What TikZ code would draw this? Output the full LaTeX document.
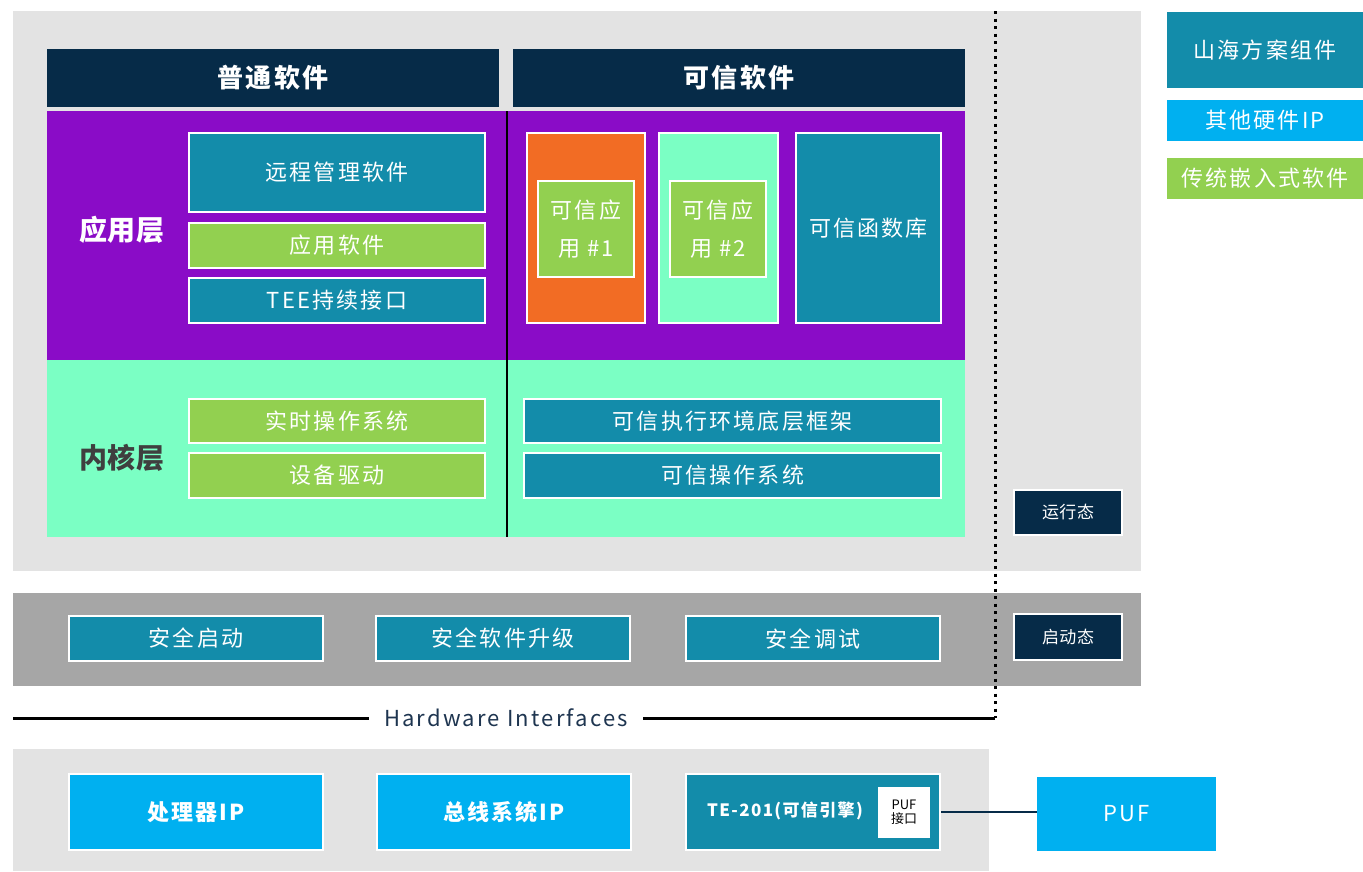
\documentclass[tikz,border=0pt]{standalone}
\usepackage{fontspec}
\setmainfont{Noto Sans CJK SC}
\definecolor{teal1}{HTML}{138CAA}
\definecolor{navy}{HTML}{062B48}
\definecolor{purp}{HTML}{8A0CC7}
\definecolor{mint}{HTML}{7BFFC4}
\definecolor{lgreen}{HTML}{92D050}
\definecolor{orng}{HTML}{F26C24}
\definecolor{cyan1}{HTML}{00B0F0}
\definecolor{lgray}{HTML}{E3E3E3}
\definecolor{mgray}{HTML}{A6A6A6}
\definecolor{hwtext}{HTML}{1E3550}
\definecolor{dgray}{HTML}{3F3F3F}
\newcommand\fA{\fontsize{22}{38}\selectfont\addfontfeatures{LetterSpace=10}}
\newcommand\fH{\bfseries\fontsize{26}{30}\selectfont\addfontfeatures{LetterSpace=10}}
\newcommand\fL{\bfseries\fontsize{28}{32}\selectfont\addfontfeatures{LetterSpace=3}}
\newcommand\fS{\fontsize{17}{20}\selectfont\addfontfeatures{LetterSpace=3}}
\newcommand\fP{\bfseries\fontsize{22}{26}\selectfont\addfontfeatures{LetterSpace=10}}
\newcommand\fT{\bfseries\fontsize{17}{20}\selectfont\addfontfeatures{LetterSpace=8}}
\newcommand\fI{\fontsize{13}{14}\selectfont}
\newcommand\fW{\fontsize{22}{26}\selectfont\addfontfeatures{LetterSpace=10}}
\newcommand\bx[7]{\node[#6,minimum width={#4pt-#2pt},minimum height={#5pt-#3pt}] (#1) at ({(#2+#4)/2},{(#3+#5)/2}) {#7};}
\tikzset{
  panel/.style={draw=none,inner sep=0pt,outer sep=0pt},
  hdr/.style={draw=none,fill=navy,text=white,font=\fH,inner sep=0pt},
  wb/.style={draw=white,line width=2.5pt,inner sep=0pt,text=white,font=\fA},
  leg/.style={draw=none,inner sep=0pt,text=white,font=\fA},
  lbl/.style={inner sep=0pt,font=\fL},
}
\begin{document}
\begin{tikzpicture}[x=1pt,y=-1pt]
\useasboundingbox (0,0) rectangle (1363,871);
\fill[white] (0,0) rectangle (1363,871);
% panels
\bx{top}{13}{11}{1141}{571}{panel,fill=lgray}{}
\bx{mid}{13}{593}{1141}{686}{panel,fill=mgray}{}
\bx{bot}{13}{749}{989}{871}{panel,fill=lgray}{}
\bx{h1}{47}{49}{499}{107}{hdr}{普通软件}
\bx{h2}{513}{49}{965}{107}{hdr}{可信软件}
\bx{app}{47}{111}{965}{360}{panel,fill=purp}{}
\bx{ker}{47}{360}{965}{537}{panel,fill=mint}{}
\node[lbl,text=white] (l1) at (122,230) {应用层};
\node[lbl,text=dgray] (l2) at (122,458) {内核层};
\coordinate (vt) at (507,111);
\coordinate (vb) at (507,537);
\draw[line width=2.5pt] (vt) -- (vb);
% application layer
\bx{b1}{189}{133}{485}{212}{wb,fill=teal1}{远程管理软件}
\bx{b2}{189}{223}{485}{268}{wb,fill=lgreen}{应用软件}
\bx{b3}{189}{278}{485}{323}{wb,fill=teal1}{TEE持续接口}
\bx{t1}{527}{133}{645}{323}{wb,fill=orng}{}
\bx{t1i}{538}{181}{634}{277}{wb,line width=2pt,fill=lgreen,align=center}{可信应\\用 \#1}
\bx{t2}{659}{133}{778}{323}{wb,fill=mint}{}
\bx{t2i}{670}{181}{766}{277}{wb,line width=2pt,fill=lgreen,align=center}{可信应\\用 \#2}
\bx{t3}{796}{133}{941}{323}{wb,fill=teal1}{可信函数库}
% kernel layer
\bx{k1}{189}{399}{485}{443}{wb,fill=lgreen}{实时操作系统}
\bx{k2}{189}{453}{485}{498}{wb,fill=lgreen}{设备驱动}
\bx{k3}{524}{399}{941}{443}{wb,fill=teal1}{可信执行环境底层框架}
\bx{k4}{524}{453}{941}{498}{wb,fill=teal1}{可信操作系统}
\bx{s1}{1014}{490}{1122}{535}{wb,fill=navy,font=\fS}{运行态}
% boot
\bx{m1}{69}{616}{323}{661}{wb,fill=teal1}{安全启动}
\bx{m2}{376}{616}{630}{661}{wb,fill=teal1}{安全软件升级}
\bx{m3}{686}{616}{940}{661}{wb,fill=teal1}{安全调试}
\bx{s2}{1014}{614}{1122}{660}{wb,fill=navy,font=\fS}{启动态}
% hardware interfaces
\node[inner xsep=15pt,inner ysep=0pt,font=\fW,text=hwtext] (hw) at (506,718) {Hardware Interfaces};
\coordinate (hl) at (13,718);
\coordinate (hr) at (995,718);
\coordinate (dt) at (995,11);
\draw[line width=3pt] (hl) -- (hw.west);
\draw[line width=3pt] (hw.east) -- (hr);
\draw[line width=3pt,dash pattern=on 3pt off 4.5pt] (dt) -- (hr);
% hardware
\bx{p1}{69}{774}{323}{850}{wb,fill=cyan1,font=\fP}{处理器IP}
\bx{p2}{377}{774}{631}{850}{wb,fill=cyan1,font=\fP}{总线系统IP}
\bx{te}{686}{774}{940}{850}{wb,fill=teal1}{}
\node[inner sep=0pt,text=white,font=\fT] (tet) at (785,811) {TE-201(可信引擎)};
\bx{pi}{878}{787}{930}{838}{draw=none,fill=white,text=black,font=\fI,align=center,inner sep=0pt}{PUF\\接口}
\bx{puf}{1037}{777}{1216}{851}{leg,fill=cyan1}{PUF}
\draw[navy,line width=2pt] (te.east) -- (te.east -| puf.west);
% legend
\bx{g1}{1167}{12}{1363}{88}{leg,fill=teal1}{山海方案组件}
\bx{g2}{1167}{100}{1363}{141}{leg,fill=cyan1}{其他硬件IP}
\bx{g3}{1167}{158}{1363}{199}{leg,fill=lgreen}{传统嵌入式软件}
\end{tikzpicture}
\end{document}
